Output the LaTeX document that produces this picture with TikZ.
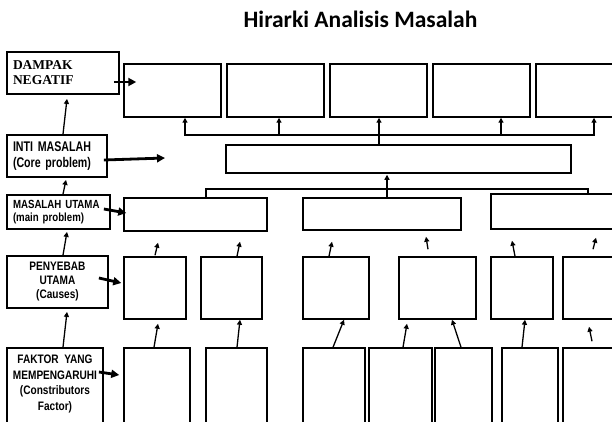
\documentclass[tikz,border=0pt]{standalone}
\usepackage{fontspec}
\newfontfamily\lsans[FakeStretch=0.82]{Liberation Sans}
\newfontfamily\lsanst[FakeStretch=0.76]{Liberation Sans}
\newfontfamily\lserif{Liberation Serif}
\newfontfamily\titlefont{Carlito}
\usetikzlibrary{calc,arrows.meta}
\newcommand\bx[6][]{\node[box,#1,minimum width={#5-#3},minimum height={#6-#4}] (#2) at ({(#3+#5)/2},{(#4+#6)/2}) {};}
\begin{document}
\begin{tikzpicture}[x=1pt,y=-1pt,
  box/.style={draw,line width=1.5pt,inner sep=0pt},
  lbox/.style={draw,line width=1.8pt,inner xsep=6pt,inner ysep=0pt},
  ln/.style={line width=1.3pt},
  thinarr/.style={line width=1.3pt,-{Triangle[length=5pt,width=5pt]}},
  thkarr/.style={line width=2.8pt,-{Triangle[length=8pt,width=8pt]}}]
\useasboundingbox (0,0) rectangle (612,422);
\clip (0,0) rectangle (612,422);
\fill[white] (0,0) rectangle (612,422);

% title
\node[font=\titlefont\bfseries\fontsize{23.5}{27}\selectfont,anchor=base,inner sep=0pt] (title) at (360.5,28) {Hirarki Analisis Masalah};

% left labels
\node[lbox,minimum width=112,minimum height=42,text width=100,align=left,
  font=\lserif\bfseries\fontsize{13.5}{15}\selectfont] (dampak) at (63,73) {DAMPAK\\NEGATIF};
\node[lbox,minimum width=100,minimum height=42,text width=88,align=left,
  font=\lsanst\bfseries\fontsize{14}{15.5}\selectfont] (inti) at (57,156) {INTI MASALAH\\(Core problem)};
\node[lbox,minimum width=103,minimum height=34,text width=91,align=left,
  font=\lsans\bfseries\fontsize{11.8}{13.5}\selectfont] (mu) at (58.5,212) {MASALAH UTAMA\\(main problem)};
\node[lbox,minimum width=101,minimum height=52,text width=89,align=center,
  font=\lsans\bfseries\fontsize{12.3}{14}\selectfont] (pen) at (57.5,282) {PENYEBAB\\UTAMA\\(Causes)};
\node[lbox,minimum width=96,minimum height=92] (fak) at (55,394) {};
\node[anchor=north,inner sep=0pt,align=center,
  font=\lsans\bfseries\fontsize{12.3}{15.5}\selectfont] (fakt) at ($(fak.north)+(0,8)$) {FAKTOR\ \ YANG\\MEMPENGARUHI\\(Constributors\\Factor)};

% top (dampak) boxes
\bx{t1}{124}{64}{221}{117}
\bx{t2}{227}{64}{324}{117}
\bx{t3}{330}{64}{427}{117}
\bx{t4}{433}{64}{530}{117}
\bx{t5}{536}{64}{633}{117}
% core
\bx{core}{226}{145}{571}{173}
% main problems
\bx{mA}{124}{198}{267}{231}
\bx{mB}{303}{198}{461}{230}
\bx{mC}{491}{194}{651}{229}
% causes
\bx{c1}{124}{257}{186}{319}
\bx{c2}{201}{257}{262}{319}
\bx{c3}{303}{257}{369}{319}
\bx{c4}{399}{257}{476}{319}
\bx{c5}{491}{257}{553}{319}
\bx{c6}{563}{257}{625}{319}
% factors
\bx{f1}{124}{348}{190}{440}
\bx{f2}{206}{348}{267}{440}
\bx{f3}{303}{348}{365}{440}
\bx{f4}{369}{348}{432}{440}
\bx{f5}{435}{348}{492}{440}
\bx{f6}{502}{348}{558}{440}
\bx{f7}{563}{348}{625}{440}

% core -> dampak
\coordinate (hub1) at (379,135);
\draw[ln] (core.north -| hub1) -- (hub1);
\draw[thinarr] (hub1) -| ($(t1.south)+(12.5,0)$);
\draw[thinarr] (hub1) -| ($(t2.south)+(3.5,0)$);
\draw[thinarr] (hub1) -- (t3.south -| hub1);
\draw[thinarr] (hub1) -| ($(t4.south)+(19.5,0)$);
\draw[thinarr] (hub1) -| ($(t5.south)+(9.5,0)$);

% main -> core
\coordinate (hub2) at (387,189);
\draw[ln] ($(mA.north)+(10.5,0)$) |- (hub2) -| ($(mC.north)+(17,0)$);
\draw[ln] (mB.north -| hub2) -- (hub2);
\draw[thinarr] (hub2) -- ($(core.south -| hub2)+(0,1)$);

% causes -> main
\draw[thinarr] ($(c1.north)+(0,-1)$) -- ($(mA.south)+(-37.5,11)$);
\draw[thinarr] ($(c2.north)+(5.5,0)$) -- ($(mA.south)+(44.5,10)$);
\draw[thinarr] ($(c3.north)+(-7,0)$) -- ($(mB.south)+(-50,11)$);
\draw[thinarr] ($(c4.north)+(-9.5,-7)$) -- ($(mB.south)+(44,6)$);
\draw[thinarr] ($(c5.north)+(-7,0)$) -- ($(mC.south)+(-59,11)$);
\draw[thinarr] ($(c6.north)+(-1,-7)$) -- ($(mC.south)+(25,8)$);

% factors -> causes
\draw[thinarr] ($(f1.north)+(-3,0)$) -- ($(c1.south)+(3,4)$);
\draw[thinarr] ($(f2.north)+(0.5,0)$) -- ($(c2.south)+(8.5,0)$);
\draw[thinarr] ($(f3.north)+(-1,0)$) -- ($(c3.south)+(8,0)$);
\draw[thinarr] ($(f4.north)+(2.5,0)$) -- ($(c4.south)+(-30.5,4)$);
\draw[thinarr] ($(f5.north)+(-2.5,0)$) -- ($(c4.south)+(14.5,0)$);
\draw[thinarr] ($(f6.north)+(-8,0)$) -- ($(c5.south)+(3,0)$);
\draw[thinarr] ($(f7.north)+(-2,-6)$) -- ($(c6.south)+(-5,7)$);

% left column vertical arrows
\draw[thinarr] ($(inti.north)+(6,0)$) -- ($(dampak.south)+(4,4)$);
\draw[thinarr] ($(mu.north)+(4.5,0)$) -- ($(inti.south)+(9,2)$);
\draw[thinarr] ($(pen.north)+(5.5,0)$) -- ($(mu.south)+(8.5,2)$);
\draw[thinarr] ($(fak.north)+(8,0)$) -- ($(pen.south)+(9.5,3)$);

% left column horizontal arrows
\coordinate (intiend) at (165,158);
\draw[thkarr] ($(dampak.east)+(-6,9)$) -- ($(t1.west)+(13,-8.5)$);
\draw[thkarr] ($(inti.east)+(-4,4)$) -- (intiend);
\draw[thkarr] ($(mu.east)+(-7,-3)$) -- ($(mA.west)+(3,-1.5)$);
\draw[thkarr] ($(pen.east)+(-10,-4)$) -- ($(c1.west)+(-2,-5)$);
\draw[thkarr] ($(fak.east)+(-5,-22)$) -- ($(f1.west)+(-4,-19)$);
\end{tikzpicture}
\end{document}
